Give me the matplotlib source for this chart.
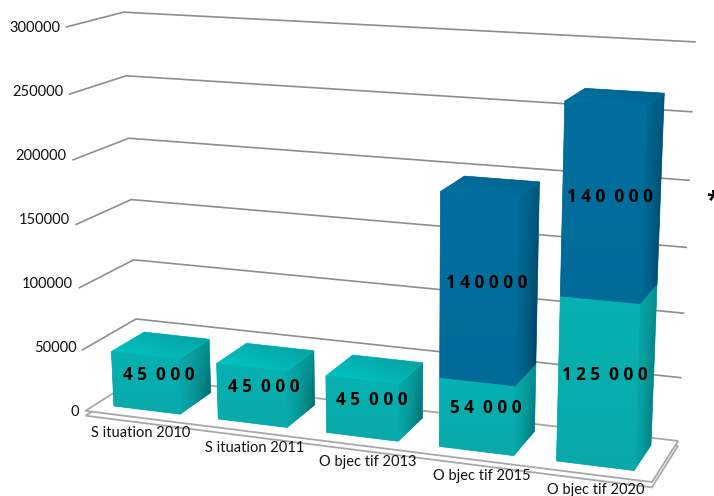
import matplotlib
matplotlib.use('Agg')
import matplotlib.pyplot as plt
from matplotlib.patches import Polygon
import numpy as np

categories = ['S ituation 2010', 'S ituation 2011', 'O bjec tif 2013', 'O bjec tif 2015', 'O bjec tif 2020']
base_values = [45000, 45000, 45000, 54000, 125000]
top_values = [0, 0, 0, 140000, 140000]
base_labels = ['4 5  0 0 0', '4 5  0 0 0', '4 5  0 0 0', '5 4  0 0 0', '1 2 5  0 0 0']
top_labels = ['', '', '', '1 4 0 0 0 0', '1 4 0  0 0 0']
z_ticks = [0, 50000, 100000, 150000, 200000, 250000, 300000]
z_max = 300000

teal = {'front': ('#06b2b2', '#0aa9a9'), 'top': ('#00c9c9', '#089c9c'), 'side': ('#08a8a8', '#005f63')}
blue = {'front': ('#006f9e', '#006b99'), 'top': ('#0077a8', '#005f8a'), 'side': ('#006a98', '#003348')}
grid_color = '#8e8e8e'
floor_color = '#a8a8a8'
text_color = '#111111'

# camera fitted on the corners of the box (x, depth, z/z_max) -> pixel
box_points = np.array([[0, 0, 0], [0, 0, 1], [0, 1, 0], [0, 1, 1], [1, 1, 0], [1, 1, 1], [1, 0, 0]], float)
box_pixels = np.array([[84, 410], [68, 27], [140, 378], [122, 12], [678, 440], [695, 42], [652, 483]], float)


def fit_camera(points, pixels):
    rows, rhs = [], []
    for (x, y, z), (u, v) in zip(points, pixels):
        rows.append([x, y, z, 1, 0, 0, 0, 0, -u * x, -u * y, -u * z])
        rhs.append(u)
        rows.append([0, 0, 0, 0, x, y, z, 1, -v * x, -v * y, -v * z])
        rhs.append(v)
    sol = np.linalg.lstsq(np.array(rows), np.array(rhs), rcond=None)[0]
    return np.append(sol, 1.0).reshape(3, 4)


camera = fit_camera(box_points, box_pixels)


def project(x, y, value):
    p = camera @ np.array([x, y, value / z_max, 1.0])
    return p[0] / p[2], p[1] / p[2]


def hex_rgb(c):
    return np.array(matplotlib.colors.to_rgb(c))


def shaded_face(ax, verts, colors, mode, zorder):
    verts = np.array(verts)
    x0, y0 = verts.min(axis=0)
    x1, y1 = verts.max(axis=0)
    u, v = np.meshgrid(np.linspace(0, 1, 64), np.linspace(0, 1, 128))
    if mode == 'side':
        s = u ** 1.6 * (0.35 + 0.65 * v)
    elif mode == 'top':
        s = (u + (1 - v)) / 2
    else:
        s = v
    c0, c1 = hex_rgb(colors[0]), hex_rgb(colors[1])
    img = c0 + (c1 - c0) * s[..., None]
    patch = Polygon(verts, closed=True, facecolor=colors[0], edgecolor=colors[0], lw=0.5, zorder=zorder)
    ax.add_patch(patch)
    im = ax.imshow(img, extent=(x0, x1, y1, y0), origin='upper', aspect='auto', zorder=zorder, interpolation='bilinear')
    im.set_clip_path(patch)


def draw_box(ax, x0, x1, y0, y1, z0, z1, style, zorder, with_top=True):
    front = [project(x0, y0, z0), project(x1, y0, z0), project(x1, y0, z1), project(x0, y0, z1)]
    side = [project(x1, y0, z0), project(x1, y1, z0), project(x1, y1, z1), project(x1, y0, z1)]
    top = [project(x0, y0, z1), project(x1, y0, z1), project(x1, y1, z1), project(x0, y1, z1)]
    shaded_face(ax, side, style['side'], 'side', zorder)
    if with_top:
        shaded_face(ax, top, style['top'], 'top', zorder)
    shaded_face(ax, front, style['front'], 'front', zorder + 0.1)


fig = plt.figure(figsize=(7.14, 4.96), dpi=100)
ax = fig.add_axes([0, 0, 1, 1])
ax.set_axis_off()

# gridlines on the side wall and the back wall
for z in z_ticks[1:]:
    line = [project(0, 0, z), project(0, 1, z), project(1, 1, z)]
    ax.plot(*zip(*line), color=grid_color, lw=1.2, zorder=1, solid_joinstyle='miter')

# tick labels are evenly spaced between the bottom and top of the front edge
bx, by = project(0, 0, 0)
tx, ty = project(0, 0, z_max)
for z in z_ticks:
    f = z / z_max
    ax.text(bx + (tx - bx) * f - 6, by + (ty - by) * f + 1, str(z), ha='right', va='center',
            fontsize=10.5, family='Lato', color=text_color)

# floor slab
slab = -4000
for z, order in ((slab, 1.4), (0, 1.6)):
    ring = [project(0, 0, z), project(1, 0, z), project(1, 1, z), project(0, 1, z)]
    ax.add_patch(Polygon(ring, closed=True, facecolor='white', edgecolor=floor_color, lw=1.3, zorder=order))

n = len(categories)
bar_half = 0.064
shift = -0.002
depth0, depth1 = 0.2, 0.82
first_x, first_y = project(0.5 / n, 0, 0)
last_x, last_y = project((n - 0.5) / n, 0, 0)
for i in range(n):
    xc = (i + 0.5) / n + shift
    x0, x1 = xc - bar_half, xc + bar_half
    zb = base_values[i]
    zt = zb + top_values[i]
    order = 2 + i
    draw_box(ax, x0, x1, depth0, depth1, 0, zb, teal, order, with_top=top_values[i] == 0)
    if top_values[i]:
        draw_box(ax, x0, x1, depth0, depth1, zb, zt, blue, order + 0.2)

    # value labels sit on the middle of each block
    lx, ly = project(xc, 0.47, zb / 2)
    ax.text(lx - 1, ly + 1.5, base_labels[i], ha='center', va='center', fontsize=12.3, fontweight='bold',
            family='Open Sans', color='black', zorder=20)
    if top_values[i]:
        lx, ly = project(xc, 0.47, zb + top_values[i] / 2)
        ax.text(lx - 1, ly + 1.5, top_labels[i], ha='center', va='center', fontsize=12.3, fontweight='bold',
                family='Open Sans', color='black', zorder=20)

    # category labels keep an even pitch along the front edge
    f = i / (n - 1)
    cx = first_x + (last_x - first_x) * f + 3 + 3 * f
    cy = first_y + (last_y - first_y) * f + 16
    ax.text(cx, cy, categories[i], ha='center', va='center', fontsize=10.5, family='Lato',
            color=text_color, zorder=20)

ax.text(706, 201, '*', ha='left', va='center', fontsize=17, fontweight='bold', family='Open Sans',
        color='black', zorder=20, clip_on=False)

ax.set_xlim(0, 714)
ax.set_ylim(496, 0)
fig.savefig('out.png', dpi=100)
